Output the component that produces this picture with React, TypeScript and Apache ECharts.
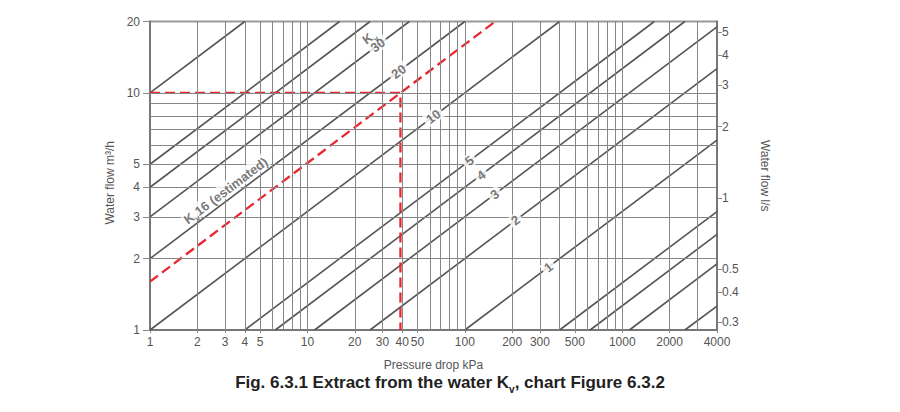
import React, { useEffect, useRef } from "react";
import * as echarts from "echarts";

// Kv lines: start and end points (pressure drop kPa, flow m3/h)
const kvNames = ["100", "50", "40", "30", "20", "10", "5", "4", "3", "2", "1", "0.5", "0.4", "0.3", "0.2"];
const lineStartDp = [1, 1, 1, 1, 1, 1, 4, 6.25, 11.1, 25, 100, 400, 625, 1111, 2500];
const lineStartQ = [10, 5, 4, 3, 2, 1, 1, 1, 1, 1, 1, 1, 1, 1, 1];
const lineEndDp = [4, 16, 25, 44.4, 100, 400, 1600, 2500, 4000, 4000, 4000, 4000, 4000, 4000, 4000];
const lineEndQ = [20, 20, 20, 20, 20, 20, 20, 20, 18.97, 12.65, 6.32, 3.16, 2.53, 1.9, 1.26];

// Estimated Kv16 line and the reading (10 m3/h at ~39 kPa)
const estimatedDp = [1, 156];
const estimatedQ = [1.6, 20];
const readingDp = [1, 39, 39];
const readingQ = [10, 10, 1];

// Kv labels on the lines
const labelTexts = ["1", "2", "3", "4", "5", "10", "20", "30"];
const labelDp = [340, 210, 155, 127, 107, 63, 38, 28];
const labelQ = [1.84, 2.9, 3.73, 4.5, 5.17, 7.94, 12.3, 15.9];
const kvTitleDp = 24.5;
const kvTitleQ = 17.3;
const estLabelDp = 3.0;
const estLabelQ = 3.9;

// Axes
const xTicks = [1, 2, 3, 4, 5, 10, 20, 30, 40, 50, 100, 200, 300, 500, 1000, 2000, 4000];
const xGrid = [2, 3, 4, 5, 6, 7, 8, 9, 10, 20, 30, 40, 50, 60, 70, 80, 90, 100, 200, 300, 400, 500, 600, 700, 800, 900, 1000, 2000, 3000];
const yTicks = [1, 2, 3, 4, 5, 10, 20];
const yGrid = [2, 3, 4, 5, 6, 7, 8, 9, 10];
const lsTicks = [0.3, 0.4, 0.5, 1, 2, 3, 4, 5];
const xMin = 1, xMax = 4000, yMin = 1, yMax = 20;
const m3hPerLs = 3.6;

const FONT = "Arial, 'Liberation Sans', sans-serif";
const TXT = "#555";

export default function App() {
  const ref = useRef<HTMLDivElement>(null);
  useEffect(() => {
    if (!ref.current) return;
    const chart = echarts.init(ref.current, undefined, { renderer: "svg" });

    const kvSeries = kvNames.map((n, i) => ({
      type: "line",
      name: "Kv " + n,
      xAxisIndex: 0,
      yAxisIndex: 0,
      data: [
        [lineStartDp[i], lineStartQ[i]],
        [lineEndDp[i], lineEndQ[i]],
      ],
      symbol: "none",
      z: 3,
      lineStyle: { color: "#555", width: 1.6 },
    }));

    const labelStyle = {
      show: true,
      position: "inside",
      rotate: 37,
      color: TXT,
      fontFamily: FONT,
      fontWeight: "bold",
      fontSize: 13,
      backgroundColor: "#fff",
      padding: [0, 3, 0, 3],
    };
    const richK = {
      k: { color: TXT, fontFamily: FONT, fontWeight: "bold", fontSize: 13, verticalAlign: "bottom", lineHeight: 15 },
      s: { color: TXT, fontFamily: FONT, fontWeight: "bold", fontSize: 8, verticalAlign: "bottom", lineHeight: 15, padding: [0, 0, -3, 0] },
    };

    const option: any = {
      animation: false,
      textStyle: { fontFamily: FONT },
      graphic: [
        {
          type: "text",
          left: "center",
          top: 374,
          style: {
            text: "{a|Fig. 6.3.1 Extract from the water K}{s|v}{a|, chart Figure 6.3.2}",
            fill: "#222",
            font: "bold 17px " + FONT,
            rich: {
              a: { fontFamily: FONT, fontWeight: "bold", fontSize: 17, fill: "#222", color: "#222", lineHeight: 18, verticalAlign: "bottom" },
              s: { fontFamily: FONT, fontWeight: "bold", fontSize: 10, fill: "#222", color: "#222", lineHeight: 18, verticalAlign: "bottom", padding: [0, 0, -3, 0] },
            },
          },
        },
      ],
      grid: { left: 150, right: 183, top: 21.5, bottom: 82, show: true, borderColor: "#999", borderWidth: 2 },
      xAxis: [
        {
          type: "log",
          logBase: 10,
          min: xMin,
          max: xMax,
          name: "Pressure drop kPa",
          nameLocation: "middle",
          nameGap: 28,
          nameTextStyle: { color: TXT, fontSize: 12, fontFamily: FONT, lineHeight: 14 },
          axisLine: { show: true, lineStyle: { color: "#777", width: 2 } },
          axisTick: { show: true, customValues: xTicks, length: 3, lineStyle: { color: "#888", width: 1 } },
          splitLine: { show: false },
          axisLabel: { customValues: xTicks, color: TXT, fontSize: 12, fontFamily: FONT, margin: 6, formatter: (v: number) => String(v) },
        },
      ],
      yAxis: [
        {
          type: "log",
          logBase: 10,
          min: yMin,
          max: yMax,
          position: "left",
          name: "Water flow m³/h",
          nameLocation: "middle",
          nameGap: 28,
          nameTextStyle: { color: TXT, fontSize: 12, fontFamily: FONT, padding: [0, 14, 0, 0] },
          axisLine: { show: true, lineStyle: { color: "#777", width: 2 } },
          axisTick: { show: true, customValues: yTicks, length: 7, lineStyle: { color: "#888", width: 1 } },
          splitLine: { show: false },
          axisLabel: { customValues: yTicks, color: TXT, fontSize: 12, fontFamily: FONT, margin: 10, formatter: (v: number) => String(v) },
        },
        {
          type: "log",
          logBase: 10,
          min: yMin / m3hPerLs,
          max: yMax / m3hPerLs,
          position: "right",
          name: "Water flow l/s",
          nameLocation: "middle",
          nameRotate: -90,
          nameGap: 42,
          nameTextStyle: { color: TXT, fontSize: 12, fontFamily: FONT },
          axisLine: { show: true, lineStyle: { color: "#777", width: 2 } },
          axisTick: { show: true, customValues: lsTicks, length: 5, lineStyle: { color: "#888", width: 1 } },
          splitLine: { show: false },
          axisLabel: { customValues: lsTicks, color: TXT, fontSize: 12, fontFamily: FONT, margin: 5, formatter: (v: number) => String(v) },
        },
      ],
      series: [
        {
          type: "line",
          name: "grid",
          data: [],
          z: 1,
          silent: true,
          markLine: {
            silent: true,
            symbol: "none",
            label: { show: false },
            animation: false,
            lineStyle: { color: "#868686", width: 1, type: "solid" },
            data: [
              ...xGrid.map((v) => ({ xAxis: v })),
              ...yGrid.map((v) => ({ yAxis: v })),
            ],
          },
        },
        ...kvSeries,
        {
          type: "line",
          name: "Kv 16 (estimated)",
          data: estimatedDp.map((d, i) => [d, estimatedQ[i]]),
          symbol: "none",
          z: 4,
          lineStyle: { color: "#ea2630", width: 2.3, type: [10, 5] },
        },
        {
          type: "line",
          name: "reading",
          data: readingDp.map((d, i) => [d, readingQ[i]]),
          symbol: "none",
          z: 4,
          lineStyle: { color: "#ea2630", width: 2.3, type: [10, 5] },
        },
        {
          type: "scatter",
          name: "labels",
          symbolSize: 1,
          z: 6,
          itemStyle: { color: "rgba(0,0,0,0)" },
          label: { ...labelStyle, formatter: (p: any) => labelTexts[p.dataIndex] },
          data: labelDp.map((d, i) => [d, labelQ[i]]),
        },
        {
          type: "scatter",
          name: "kvtitle",
          symbolSize: 1,
          z: 6,
          itemStyle: { color: "rgba(0,0,0,0)" },
          label: {
            ...labelStyle,
            backgroundColor: "transparent",
            formatter: "{k|K}{s|v}",
            rich: richK,
          },
          data: [[kvTitleDp, kvTitleQ]],
        },
        {
          type: "scatter",
          name: "estlabel",
          symbolSize: 1,
          z: 6,
          itemStyle: { color: "rgba(0,0,0,0)" },
          label: {
            ...labelStyle,
            padding: [0, 1, 0, 1],
            formatter: "{k|K}{s|v}{k|16 (estimated)}",
            rich: richK,
          },
          data: [[estLabelDp, estLabelQ]],
        },
      ],
    };
    chart.setOption(option);
    return () => chart.dispose();
  }, []);
  return (
    <div
      ref={ref}
      style={{ position: "fixed", left: 0, top: 0, width: 900, height: 412, background: "#fff" }}
    />
  );
}
